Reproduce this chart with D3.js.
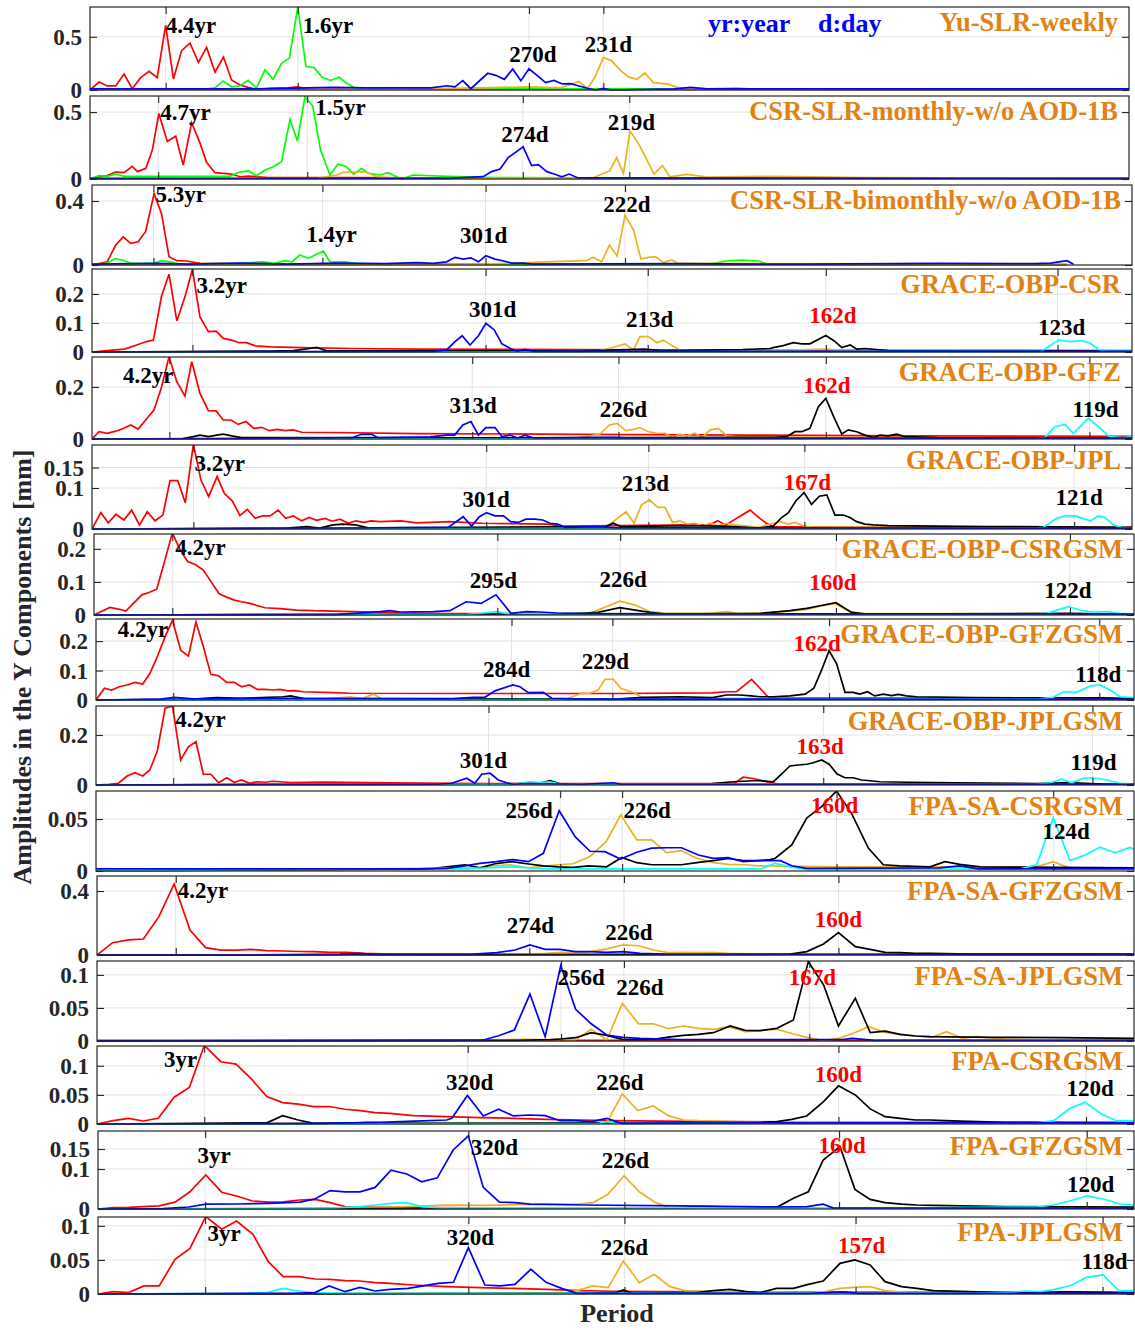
<!DOCTYPE html>
<html>
<head>
<meta charset="utf-8">
<script src="https://cdn.jsdelivr.net/npm/d3@7"></script>
<style>
  body { margin: 0; background: #fff; }
  text { font-family: "Liberation Serif", "Times New Roman", serif; font-weight: bold; }
</style>
</head>
<body>
<svg id="chart" width="1135" height="1330"></svg>
<script>
// x is frequency in cycles per year (period = 1/f), y amplitude in mm
const FMAX = 3.2;

// ---- panel 1: Yu-SLR-weekly
const p1Red = [[0,0],[0.028,0.075],[0.053,0.038],[0.079,0.038],[0.105,0.15],[0.13,0.012],[0.156,0.116],[0.182,0.176],[0.207,0.116],[0.233,0.607],[0.257,0.104],[0.282,0.37],[0.308,0.44],[0.334,0.26],[0.359,0.4],[0.385,0.167],[0.411,0.31],[0.436,0.094],[0.462,0.047],[0.487,0.025],[0.513,0.006],[0.56,0.015],[0.61,0.02],[0.64,0.03],[0.665,0.008],[1.0,0.006],[3.2,0.004]];
const p1Green = [[0,0.01],[0.36,0.01],[0.385,0.02],[0.41,0.085],[0.436,0.03],[0.462,0.04],[0.487,0.09],[0.513,0.02],[0.539,0.19],[0.564,0.1],[0.59,0.25],[0.614,0.3],[0.64,0.78],[0.665,0.22],[0.69,0.21],[0.715,0.12],[0.741,0.09],[0.767,0.12],[0.792,0.06],[0.816,0.02],[1.0,0.01],[1.5,0.01],[3.2,0.005]];
const p1Orange = [[0,0],[0.9,0.005],[1.2,0.02],[1.35,0.03],[1.45,0.02],[1.506,0.08],[1.532,0.012],[1.555,0.12],[1.581,0.305],[1.607,0.274],[1.632,0.19],[1.658,0.123],[1.684,0.1],[1.709,0.16],[1.735,0.069],[1.761,0.063],[1.786,0.05],[1.812,0.02],[1.9,0.01],[1.99,0.02],[2.05,0.005],[3.2,0.005]];
const p1Blue = [[0,0.01],[0.5,0.01],[0.75,0.025],[0.85,0.02],[1.05,0.02],[1.1,0.04],[1.124,0.03],[1.148,0.088],[1.173,0.012],[1.225,0.157],[1.25,0.138],[1.276,0.1],[1.302,0.198],[1.327,0.088],[1.352,0.2],[1.378,0.135],[1.403,0.069],[1.429,0.09],[1.455,0.057],[1.48,0.06],[1.506,0.038],[1.532,0.016],[1.557,0],[1.581,0.016],[1.605,0],[1.8,0.01],[1.85,0.025],[1.9,0.01],[2.5,0.01],[3.2,0.01]];

// ---- panel 2: CSR-SLR-monthly-w/o AOD-1B
const p2Red = [[0,0],[0.028,0.017],[0.053,0.025],[0.079,0.052],[0.105,0.047],[0.13,0.095],[0.146,0.055],[0.172,0.08],[0.192,0.216],[0.212,0.49],[0.238,0.28],[0.264,0.32],[0.287,0.104],[0.313,0.42],[0.339,0.266],[0.359,0.125],[0.385,0.047],[0.411,0.042],[0.436,0.037],[0.462,0.017],[0.488,0.022],[0.55,0.01],[0.8,0.01],[1.5,0.005],[3.2,0.005]];
const p2Green = [[0,0],[0.028,0.025],[0.053,0.02],[0.079,0.037],[0.105,0.02],[0.3,0.02],[0.43,0.02],[0.462,0.052],[0.488,0.06],[0.513,0.025],[0.539,0.067],[0.565,0.092],[0.59,0.13],[0.616,0.445],[0.639,0.284],[0.662,0.614],[0.686,0.545],[0.71,0.216],[0.739,0.03],[0.764,0.112],[0.79,0.092],[0.812,0.035],[0.836,0.08],[0.859,0.042],[0.893,0.03],[0.918,0.047],[0.933,0.03],[0.96,0.0],[0.995,0.03],[1.1,0.02],[1.25,0.01],[3.2,0.0]];
const p2Orange = [[0,0],[0.7,0.005],[0.76,0.03],[0.779,0.05],[0.847,0.055],[0.883,0.017],[0.95,0.005],[1.5,0.005],[1.55,0.01],[1.601,0.062],[1.622,0.16],[1.643,0.042],[1.663,0.358],[1.689,0.266],[1.714,0.149],[1.737,0.037],[1.763,0.1],[1.786,0.017],[1.838,0.035],[1.9,0.015],[2.1,0.02],[2.4,0.01],[3.2,0.005]];
const p2Blue = [[0,0.005],[1.1,0.005],[1.211,0.017],[1.237,0.055],[1.263,0.075],[1.288,0.16],[1.334,0.24],[1.36,0.1],[1.381,0.107],[1.407,0.055],[1.432,0.035],[1.453,0.017],[1.476,0.037],[1.503,0.008],[3.2,0.005]];

// ---- panel 3: CSR-SLR-bimonthly-w/o AOD-1B
const p3Red = [[0,0],[0.047,0.02],[0.073,0.125],[0.096,0.176],[0.119,0.135],[0.142,0.145],[0.165,0.21],[0.191,0.446],[0.214,0.32],[0.237,0.052],[0.261,0.027],[0.291,0.025],[0.332,0.01],[0.5,0.005],[3.0,0.003]];
const p3Green = [[0,0],[0.047,0.012],[0.071,0.04],[0.096,0.03],[0.119,0.01],[0.19,0.01],[0.214,0.027],[0.24,0.02],[0.27,0.005],[0.45,0.01],[0.527,0.02],[0.56,0.01],[0.594,0.027],[0.615,0.02],[0.64,0.062],[0.666,0.041],[0.686,0.062],[0.712,0.087],[0.732,0.02],[0.78,0.02],[0.81,0.01],[0.9,0.003],[1.9,0.005],[1.95,0.025],[2.0,0.03],[2.05,0.025],[2.08,0.005],[3.0,0.0]];
const p3Orange = [[0,0],[1.2,0.005],[1.399,0.02],[1.522,0.027],[1.542,0.048],[1.568,0.02],[1.592,0.124],[1.616,0.056],[1.64,0.31],[1.666,0.22],[1.689,0.037],[1.712,0.048],[1.734,0.052],[1.758,0.015],[1.784,0.031],[1.803,0.01],[3.0,0.005]];
const p3Blue = [[0,0.005],[0.2,0.01],[0.3,0.006],[0.45,0.012],[0.6,0.006],[0.75,0.012],[0.9,0.008],[1.0,0.015],[1.05,0.01],[1.091,0.02],[1.117,0.048],[1.142,0.037],[1.166,0.045],[1.189,0.02],[1.212,0.058],[1.24,0.037],[1.266,0.025],[1.291,0.012],[1.327,0.012],[1.357,0.005],[1.8,0.008],[2.2,0.005],[2.6,0.01],[2.9,0.008],[2.95,0.012],[3.0,0.027],[3.02,0.005]];

// ---- panel 4: GRACE-OBP-CSR
const p4Red = [[0,0],[0.045,0.005],[0.1,0.01],[0.142,0.026],[0.168,0.036],[0.189,0.041],[0.214,0.193],[0.237,0.268],[0.261,0.107],[0.286,0.19],[0.309,0.285],[0.332,0.122],[0.358,0.07],[0.382,0.072],[0.404,0.047],[0.43,0.041],[0.453,0.032],[0.476,0.032],[0.502,0.021],[0.548,0.018],[0.645,0.015],[0.8,0.012],[1.0,0.01],[1.5,0.008],[2.0,0.006],[3.2,0.005]];
const p4Orange = [[0,0],[1.5,0.002],[1.56,0.005],[1.594,0.013],[1.64,0.028],[1.666,0.007],[1.686,0.053],[1.712,0.053],[1.738,0.032],[1.758,0.041],[1.784,0.022],[1.809,0.007],[2.1,0.005],[2.26,0.01],[2.3,0.005],[3.2,0.003]];
const p4Black = [[0,0],[0.55,0.003],[0.62,0.005],[0.67,0.012],[0.691,0.016],[0.72,0.005],[1.5,0.003],[1.7,0.01],[1.75,0.005],[2.0,0.008],[2.086,0.012],[2.096,0.015],[2.127,0.022],[2.158,0.032],[2.184,0.028],[2.209,0.028],[2.258,0.057],[2.284,0.038],[2.307,0.015],[2.333,0.024],[2.353,0.01],[2.378,0.012],[2.45,0.005],[3.2,0.003]];
const p4Cyan = [[0,0],[2.9,0.002],[2.922,0.003],[2.974,0.041],[3.01,0.036],[3.046,0.039],[3.072,0.03],[3.098,0.007],[3.13,0.003],[3.2,0.003]];
const p4Blue = [[0,0],[1.05,0.002],[1.091,0.007],[1.117,0.036],[1.139,0.056],[1.163,0.024],[1.189,0.056],[1.212,0.099],[1.238,0.076],[1.261,0.028],[1.286,0.013],[1.307,0.003],[1.332,0.009],[1.36,0.002],[3.2,0.002]];

// ---- panel 5: GRACE-OBP-GFZ
const p5Red = [[0,0],[0.022,0.028],[0.047,0.022],[0.073,0.03],[0.098,0.041],[0.119,0.054],[0.142,0.038],[0.165,0.073],[0.191,0.112],[0.214,0.2],[0.237,0.316],[0.261,0.22],[0.286,0.165],[0.307,0.297],[0.332,0.176],[0.358,0.109],[0.382,0.108],[0.404,0.073],[0.427,0.073],[0.45,0.056],[0.474,0.067],[0.498,0.041],[0.522,0.045],[0.546,0.032],[0.57,0.037],[0.594,0.032],[0.619,0.035],[0.645,0.026],[0.8,0.024],[1.0,0.021],[1.5,0.018],[2.0,0.015],[2.5,0.012],[3.2,0.01]];
const p5Orange = [[0,0],[1.0,0.003],[1.5,0.005],[1.563,0.019],[1.592,0.054],[1.616,0.06],[1.642,0.032],[1.666,0.037],[1.686,0.044],[1.712,0.028],[1.738,0.022],[1.763,0.022],[1.786,0.005],[1.809,0.019],[1.83,0.012],[1.855,0.022],[1.877,0.005],[1.902,0.035],[1.927,0.041],[1.953,0.012],[1.978,0.009],[2.3,0.005],[3.2,0.004]];
const p5Black = [[0,0],[0.28,0.002],[0.312,0.009],[0.332,0.015],[0.358,0.009],[0.384,0.015],[0.404,0.019],[0.43,0.012],[0.46,0.005],[1.2,0.004],[2.1,0.006],[2.137,0.009],[2.163,0.028],[2.184,0.028],[2.209,0.041],[2.235,0.124],[2.258,0.156],[2.284,0.08],[2.307,0.019],[2.327,0.035],[2.353,0.028],[2.378,0.015],[2.404,0.006],[2.425,0.015],[2.45,0.012],[2.476,0.019],[2.5,0.009],[2.6,0.005],[3.2,0.004]];
const p5Cyan = [[0,0],[2.9,0.002],[2.932,0.005],[2.963,0.047],[2.994,0.056],[3.019,0.022],[3.066,0.08],[3.097,0.047],[3.13,0.009],[3.17,0.005],[3.2,0.008]];
const p5Blue = [[0,0],[0.6,0.003],[0.8,0.005],[0.83,0.018],[0.86,0.018],[0.88,0.005],[1.04,0.008],[1.071,0.012],[1.091,0.015],[1.116,0.015],[1.141,0.054],[1.166,0.067],[1.189,0.015],[1.212,0.044],[1.24,0.044],[1.261,0.009],[1.286,0.015],[1.31,0.004],[1.332,0.015],[1.36,0.004],[1.6,0.006],[1.65,0.004],[2.2,0.003],[3.2,0.003]];

// ---- panel 6: GRACE-OBP-JPL
const p6Red = [[0,0],[0.027,0.04],[0.05,0.015],[0.074,0.036],[0.098,0.022],[0.122,0.046],[0.146,0.01],[0.17,0.042],[0.194,0.02],[0.218,0.034],[0.24,0.118],[0.264,0.118],[0.287,0.064],[0.312,0.207],[0.335,0.12],[0.359,0.079],[0.385,0.128],[0.407,0.087],[0.432,0.068],[0.455,0.033],[0.478,0.048],[0.502,0.026],[0.525,0.032],[0.548,0.032],[0.573,0.046],[0.596,0.026],[0.619,0.032],[0.645,0.02],[0.668,0.028],[0.691,0.021],[0.717,0.026],[0.739,0.019],[0.763,0.024],[0.789,0.014],[0.812,0.02],[0.836,0.016],[0.859,0.02],[0.886,0.018],[0.95,0.02],[1.0,0.015],[1.1,0.018],[1.2,0.014],[1.4,0.012],[1.45,0.007],[1.6,0.008],[1.9,0.01],[1.925,0.02],[1.95,0.01],[2.025,0.046],[2.055,0.026],[2.075,0.014],[2.1,0.005],[3.2,0.004]];
const p6Orange = [[0,0],[1.5,0.003],[1.58,0.005],[1.604,0.018],[1.643,0.042],[1.668,0.014],[1.691,0.059],[1.715,0.071],[1.741,0.053],[1.763,0.053],[1.786,0.016],[1.809,0.02],[1.832,0.012],[1.855,0.014],[1.879,0.008],[1.902,0.014],[1.925,0.008],[1.953,0.014],[1.978,0.01],[2.05,0.004],[2.096,0.014],[2.117,0.018],[2.143,0.012],[2.163,0.016],[2.189,0.008],[2.214,0.005],[3.2,0.003]];
const p6Black = [[0,0],[0.6,0.002],[0.661,0.006],[0.7,0.002],[0.742,0.01],[0.772,0.012],[0.81,0.01],[0.85,0.003],[1.4,0.005],[1.58,0.006],[1.604,0.014],[1.63,0.005],[1.8,0.008],[1.95,0.007],[2.05,0.002],[2.096,0.007],[2.122,0.028],[2.143,0.04],[2.166,0.069],[2.191,0.089],[2.214,0.06],[2.238,0.08],[2.261,0.083],[2.286,0.034],[2.312,0.034],[2.332,0.028],[2.353,0.018],[2.378,0.012],[2.404,0.01],[2.45,0.008],[2.75,0.006],[3.2,0.004]];
const p6Cyan = [[0,0],[2.9,0.002],[2.927,0.004],[2.968,0.026],[2.994,0.032],[3.025,0.032],[3.048,0.026],[3.073,0.02],[3.096,0.032],[3.117,0.028],[3.143,0.01],[3.168,0.004],[3.2,0.002]];
const p6Blue = [[0,0],[0.9,0.003],[1.096,0.004],[1.142,0.03],[1.168,0.007],[1.192,0.03],[1.214,0.04],[1.24,0.032],[1.266,0.032],[1.288,0.018],[1.312,0.016],[1.335,0.024],[1.363,0.024],[1.387,0.022],[1.409,0.014],[1.433,0.012],[1.456,0.004],[1.55,0.006],[1.62,0.003],[3.2,0.002]];

// ---- panel 7: GRACE-OBP-CSRGSM
const p7Red = [[0,0],[0.049,0.023],[0.075,0.018],[0.098,0.012],[0.121,0.035],[0.147,0.061],[0.169,0.068],[0.193,0.078],[0.216,0.158],[0.241,0.248],[0.265,0.197],[0.288,0.162],[0.313,0.152],[0.336,0.136],[0.36,0.101],[0.385,0.064],[0.408,0.054],[0.432,0.045],[0.454,0.04],[0.48,0.035],[0.504,0.028],[0.526,0.022],[0.572,0.019],[0.624,0.015],[0.675,0.013],[0.736,0.012],[0.798,0.01],[0.859,0.009],[0.95,0.006],[1.1,0.004],[3.2,0.003]];
const p7Orange = [[0,0],[1.4,0.003],[1.526,0.005],[1.618,0.042],[1.665,0.03],[1.711,0.01],[1.757,0.005],[1.9,0.006],[1.947,0.01],[1.98,0.004],[2.1,0.008],[2.152,0.013],[2.193,0.017],[2.234,0.027],[2.28,0.035],[2.326,0.01],[2.357,0.005],[3.2,0.003]];
const p7Black = [[0,0],[1.45,0.003],[1.55,0.008],[1.618,0.022],[1.665,0.015],[1.711,0.008],[1.76,0.003],[2.05,0.005],[2.142,0.013],[2.193,0.02],[2.234,0.028],[2.283,0.037],[2.331,0.008],[2.378,0.003],[3.0,0.005],[3.2,0.002]];
const p7Cyan = [[0,0],[1.15,0.002],[1.2,0.006],[1.239,0.01],[1.27,0.004],[2.9,0.003],[2.931,0.005],[2.998,0.025],[3.034,0.015],[3.075,0.008],[3.116,0.01],[3.157,0.005],[3.2,0.003]];
const p7Blue = [[0,0],[0.75,0.002],[0.85,0.008],[0.88,0.01],[0.911,0.013],[0.942,0.009],[1.044,0.01],[1.095,0.013],[1.145,0.04],[1.191,0.035],[1.237,0.061],[1.283,0.005],[1.331,0.01],[1.372,0.009],[1.424,0.006],[1.5,0.004],[3.2,0.003]];

// ---- panel 8: GRACE-OBP-GFZGSM
const p8Red = [[0,0],[0.026,0.04],[0.048,0.034],[0.072,0.045],[0.096,0.051],[0.12,0.06],[0.144,0.054],[0.166,0.09],[0.189,0.147],[0.213,0.215],[0.236,0.271],[0.261,0.169],[0.285,0.149],[0.308,0.265],[0.331,0.181],[0.354,0.087],[0.378,0.082],[0.403,0.06],[0.426,0.06],[0.449,0.045],[0.473,0.051],[0.497,0.036],[0.521,0.036],[0.545,0.034],[0.567,0.036],[0.592,0.031],[0.614,0.032],[0.639,0.028],[0.731,0.025],[0.783,0.023],[1.2,0.022],[1.6,0.022],[1.9,0.024],[1.944,0.028],[1.975,0.028],[2.021,0.07],[2.047,0.04],[2.072,0.01],[2.1,0.008],[3.2,0.005]];
const p8Orange = [[0,0],[0.7,0.003],[0.783,0.011],[0.82,0.005],[0.855,0.02],[0.88,0.004],[1.4,0.003],[1.456,0.006],[1.497,0.023],[1.523,0.023],[1.548,0.034],[1.569,0.07],[1.595,0.07],[1.618,0.04],[1.662,0.023],[1.687,0.006],[3.2,0.003]];
const p8Black = [[0,0],[0.3,0.003],[0.372,0.008],[0.45,0.006],[0.577,0.011],[0.6,0.014],[0.64,0.005],[1.6,0.003],[1.687,0.009],[1.8,0.011],[1.9,0.008],[1.944,0.017],[1.985,0.017],[2.02,0.014],[2.047,0.011],[2.088,0.011],[2.139,0.014],[2.186,0.02],[2.213,0.04],[2.237,0.102],[2.26,0.167],[2.283,0.124],[2.309,0.026],[2.334,0.026],[2.355,0.02],[2.378,0.028],[2.401,0.014],[2.427,0.02],[2.453,0.015],[2.473,0.019],[2.499,0.014],[2.53,0.011],[2.7,0.008],[3.1,0.007],[3.2,0.005]];
const p8Cyan = [[0,0],[2.9,0.003],[2.951,0.009],[2.982,0.028],[3.023,0.026],[3.064,0.047],[3.095,0.051],[3.126,0.034],[3.157,0.011],[3.2,0.008]];
const p8Blue = [[0,0],[0.2,0.003],[0.24,0.009],[0.3,0.004],[0.55,0.006],[1.1,0.005],[1.163,0.009],[1.2,0.01],[1.23,0.031],[1.285,0.051],[1.307,0.045],[1.333,0.025],[1.379,0.026],[1.405,0.006],[1.5,0.003],[3.2,0.002]];

// ---- panel 9: GRACE-OBP-JPLGSM
const p9Red = [[0,0],[0.04,0.003],[0.069,0.007],[0.096,0.036],[0.12,0.049],[0.144,0.036],[0.166,0.06],[0.189,0.136],[0.213,0.307],[0.236,0.316],[0.261,0.1],[0.285,0.153],[0.308,0.173],[0.331,0.043],[0.354,0.043],[0.378,0.009],[0.403,0.029],[0.426,0.011],[0.449,0.02],[0.473,0.007],[0.497,0.013],[0.521,0.011],[0.545,0.015],[0.6,0.01],[0.7,0.012],[0.9,0.009],[1.2,0.006],[1.9,0.006],[1.97,0.008],[1.995,0.031],[2.021,0.027],[2.047,0.02],[2.07,0.012],[2.1,0.005],[3.2,0.004]];
const p9Black = [[0,0],[1.2,0.003],[1.37,0.008],[1.4,0.017],[1.43,0.005],[1.9,0.006],[1.964,0.013],[2.026,0.017],[2.047,0.017],[2.088,0.013],[2.114,0.044],[2.139,0.076],[2.165,0.08],[2.191,0.083],[2.211,0.089],[2.237,0.1],[2.26,0.083],[2.285,0.044],[2.309,0.029],[2.334,0.029],[2.36,0.02],[2.386,0.017],[2.417,0.013],[2.5,0.011],[2.65,0.009],[2.9,0.006],[3.0,0.01],[3.1,0.004],[3.2,0.003]];
const p9Cyan = [[0,0],[1.28,0.003],[1.307,0.007],[1.338,0.013],[1.37,0.01],[1.4,0.013],[1.43,0.004],[2.9,0.003],[2.941,0.009],[2.977,0.023],[3.008,0.009],[3.043,0.027],[3.074,0.029],[3.116,0.02],[3.157,0.007],[3.2,0.003]];
const p9Blue = [[0,0],[0.5,0.003],[1.05,0.003],[1.096,0.007],[1.143,0.027],[1.168,0.007],[1.189,0.043],[1.215,0.047],[1.24,0.02],[1.266,0.009],[1.286,0.003],[1.33,0.006],[1.5,0.003],[1.595,0.009],[1.62,0.003],[3.2,0.003]];

// ---- panel 10: FPA-SA-CSRGSM
const p10Orange = [[0,0],[1.15,0.002],[1.225,0.005],[1.276,0.006],[1.33,0.003],[1.425,0.006],[1.471,0.007],[1.523,0.014],[1.572,0.028],[1.618,0.054],[1.667,0.03],[1.713,0.03],[1.759,0.0176],[1.805,0.0195],[1.852,0.0122],[1.903,0.008],[1.949,0.0064],[2.0,0.006],[2.042,0.005],[2.3,0.004],[2.9,0.004],[2.951,0.009],[3.0,0.003],[3.2,0.003]];
const p10Black = [[0,0],[0.5,0.001],[1.0,0.002],[1.04,0.0026],[1.137,0.006],[1.184,0.003],[1.23,0.007],[1.281,0.009],[1.328,0.007],[1.379,0.005],[1.425,0.004],[1.471,0.0035],[1.518,0.005],[1.574,0.004],[1.621,0.013],[1.667,0.008],[1.713,0.006],[1.759,0.006],[1.805,0.006],[1.852,0.008],[1.903,0.01],[1.949,0.012],[1.995,0.01],[2.042,0.01],[2.078,0.011],[2.093,0.012],[2.145,0.025],[2.191,0.051],[2.237,0.062],[2.283,0.077],[2.33,0.055],[2.381,0.022],[2.427,0.006],[2.478,0.005],[2.571,0.004],[2.617,0.009],[2.663,0.0064],[2.725,0.004],[3.2,0.003]];
const p10Cyan = [[0,0],[1.2,0.003],[1.28,0.004],[1.4,0.002],[2.05,0.002],[2.093,0.0074],[2.14,0.004],[2.2,0.001],[2.85,0.002],[2.9,0.006],[2.951,0.051],[3.003,0.01],[3.049,0.0154],[3.095,0.023],[3.141,0.0176],[3.187,0.0227],[3.2,0.021]];
const p10Blue = [[0,0.002],[0.5,0.002],[1.0,0.002],[1.081,0.0026],[1.137,0.005],[1.184,0.0074],[1.235,0.009],[1.285,0.011],[1.333,0.009],[1.379,0.017],[1.428,0.058],[1.477,0.033],[1.523,0.019],[1.569,0.0186],[1.617,0.0115],[1.667,0.018],[1.713,0.022],[1.759,0.0224],[1.805,0.0224],[1.857,0.0154],[1.903,0.0122],[1.949,0.0128],[1.995,0.009],[2.042,0.01],[2.078,0.01],[2.11,0.01],[2.145,0.005],[2.191,0.0025],[2.6,0.003],[2.663,0.005],[2.72,0.002],[3.2,0.002]];

// ---- panel 11: FPA-SA-GFZGSM
const p11Red = [[0,0],[0.048,0.077],[0.097,0.094],[0.143,0.1],[0.191,0.24],[0.238,0.444],[0.287,0.156],[0.335,0.046],[0.382,0.031],[0.431,0.031],[0.477,0.035],[0.524,0.027],[0.575,0.025],[0.627,0.022],[0.668,0.021],[0.719,0.017],[0.771,0.017],[0.822,0.01],[0.904,0.006],[1.2,0.004],[3.2,0.002]];
const p11Black = [[0,0],[0.75,0.002],[0.8,0.006],[0.85,0.002],[1.5,0.003],[2.05,0.004],[2.139,0.006],[2.19,0.021],[2.242,0.069],[2.288,0.14],[2.34,0.052],[2.386,0.035],[2.432,0.017],[2.478,0.015],[2.525,0.01],[2.571,0.01],[2.7,0.006],[3.2,0.005]];
const p11Blue = [[0,0],[0.6,0.002],[0.75,0.005],[0.812,0.01],[0.86,0.004],[1.15,0.004],[1.234,0.015],[1.29,0.031],[1.336,0.063],[1.383,0.035],[1.429,0.035],[1.475,0.021],[1.522,0.021],[1.573,0.017],[1.624,0.021],[1.676,0.01],[1.75,0.005],[3.2,0.003]];
const p11Orange = [[0,0],[1.3,0.004],[1.388,0.01],[1.434,0.017],[1.475,0.012],[1.522,0.021],[1.573,0.038],[1.624,0.063],[1.671,0.058],[1.717,0.031],[1.763,0.015],[1.809,0.017],[1.856,0.015],[1.902,0.015],[1.949,0.01],[2.05,0.006],[3.2,0.004]];

// ---- panel 12: FPA-SA-JPLGSM
const p12Red = [[0,0.001],[3.2,0.001]];
const p12Orange = [[0,0],[1.2,0.001],[1.316,0.0026],[1.4,0.002],[1.477,0.0015],[1.525,0.0177],[1.573,0.0015],[1.621,0.057],[1.671,0.026],[1.717,0.026],[1.763,0.0186],[1.81,0.0227],[1.856,0.019],[1.902,0.0177],[1.948,0.0217],[2.0,0.0141],[2.046,0.0156],[2.098,0.018],[2.149,0.0106],[2.195,0.005],[2.242,0.0005],[2.288,0.004],[2.334,0.0117],[2.381,0.0217],[2.432,0.013],[2.478,0.01],[2.53,0.0076],[2.576,0.0056],[2.622,0.014],[2.669,0.004],[2.715,0.0065],[2.8,0.003],[3.0,0.001],[3.2,0.001]];
const p12Black = [[0,0],[1.3,0.001],[1.4,0.002],[1.429,0.003],[1.477,0.005],[1.525,0.0126],[1.573,0.0086],[1.621,0.0026],[1.671,0.002],[1.717,0.0026],[1.763,0.006],[1.81,0.0086],[1.856,0.0101],[1.902,0.0126],[1.954,0.0227],[2.0,0.0162],[2.046,0.0156],[2.098,0.0192],[2.149,0.0318],[2.195,0.12],[2.242,0.085],[2.288,0.0227],[2.34,0.0647],[2.386,0.0126],[2.432,0.015],[2.478,0.0101],[2.525,0.0076],[2.571,0.0065],[2.766,0.0056],[2.972,0.005],[3.2,0.004]];
const p12Blue = [[0,0],[1.1,0.001],[1.192,0.0015],[1.239,0.008],[1.288,0.0167],[1.336,0.071],[1.383,0.0065],[1.431,0.114],[1.477,0.048],[1.525,0.026],[1.573,0.009],[1.623,0.0056],[1.676,0.004],[1.8,0.002],[2.3,0.002],[2.33,0.004],[2.4,0.001],[3.2,0.001]];

// ---- panel 13: FPA-CSRGSM
const p13Red = [[0,0],[0.05,0.0057],[0.097,0.0098],[0.143,0.0052],[0.189,0.0098],[0.238,0.046],[0.285,0.0626],[0.331,0.135],[0.382,0.107],[0.429,0.103],[0.477,0.077],[0.524,0.047],[0.573,0.0367],[0.621,0.034],[0.668,0.03],[0.717,0.03],[0.765,0.0253],[0.812,0.023],[0.858,0.0195],[0.904,0.0184],[0.976,0.0143],[1.079,0.0126],[1.182,0.011],[1.285,0.0098],[1.388,0.008],[1.491,0.0069],[1.594,0.0057],[1.902,0.004],[3.2,0.003]];
const p13Orange = [[0,0],[0.8,0.002],[0.83,0.004],[0.87,0.003],[1.2,0.002],[1.55,0.002],[1.575,0.004],[1.621,0.0517],[1.669,0.023],[1.717,0.031],[1.763,0.0143],[1.81,0.0069],[1.856,0.0057],[2.0,0.004],[3.2,0.003]];
const p13Black = [[0,0],[0.328,0.001],[0.524,0.002],[0.573,0.0143],[0.621,0.0069],[0.668,0.001],[0.8,0.002],[1.0,0.001],[1.6,0.002],[1.9,0.003],[2.046,0.003],[2.098,0.004],[2.144,0.008],[2.19,0.0138],[2.242,0.0385],[2.288,0.0655],[2.34,0.05],[2.386,0.0259],[2.432,0.0126],[2.478,0.0098],[2.525,0.0069],[2.571,0.0069],[2.617,0.0057],[2.664,0.005],[2.8,0.003],[3.2,0.002]];
const p13Cyan = [[0,0],[1.55,0.001],[1.573,0.004],[1.6,0.001],[2.9,0.002],[2.952,0.0057],[3.003,0.027],[3.049,0.0374],[3.101,0.0167],[3.147,0.0057],[3.2,0.005]];
const p13Blue = [[0,0],[0.7,0.001],[0.873,0.003],[0.98,0.005],[1.079,0.0069],[1.095,0.0098],[1.143,0.049],[1.192,0.0138],[1.239,0.0253],[1.285,0.0138],[1.336,0.0155],[1.383,0.0143],[1.429,0.0057],[1.475,0.0057],[1.527,0.004],[1.573,0.0098],[1.619,0.001],[2.0,0.002],[3.2,0.002]];

// ---- panel 14: FPA-GFZGSM
const p14Red = [[0,0],[0.047,0.0033],[0.094,0.004],[0.14,0.006],[0.189,0.008],[0.238,0.017],[0.284,0.043],[0.333,0.085],[0.382,0.042],[0.428,0.0325],[0.477,0.02],[0.526,0.017],[0.572,0.018],[0.622,0.0225],[0.67,0.024],[0.717,0.016],[0.763,0.006],[0.809,0.005],[0.861,0.004],[1.2,0.003],[3.2,0.002]];
const p14Orange = [[0,0],[0.7,0.002],[0.9,0.004],[1.077,0.01],[1.2,0.009],[1.386,0.012],[1.48,0.012],[1.53,0.016],[1.576,0.0375],[1.625,0.083],[1.672,0.043],[1.72,0.017],[1.767,0.003],[3.2,0.003]];
const p14Black = [[0,0],[1.8,0.002],[1.859,0.006],[2.0,0.005],[2.101,0.006],[2.148,0.027],[2.194,0.043],[2.24,0.1225],[2.292,0.156],[2.338,0.049],[2.385,0.024],[2.431,0.016],[2.482,0.012],[2.529,0.01],[2.58,0.009],[2.8,0.006],[3.2,0.005]];
const p14Cyan = [[0,0],[0.7,0.001],[0.809,0.006],[0.856,0.01],[0.907,0.014],[0.954,0.016],[1.0,0.006],[1.05,0.003],[2.5,0.003],[2.9,0.005],[2.951,0.01],[3.002,0.02],[3.054,0.033],[3.105,0.025],[3.157,0.0125],[3.2,0.01]];
const p14Blue = [[0,0],[0.2,0.001],[0.28,0.005],[0.333,0.012],[0.428,0.0125],[0.526,0.014],[0.624,0.017],[0.67,0.025],[0.717,0.046],[0.763,0.043],[0.809,0.043],[0.856,0.054],[0.905,0.097],[0.954,0.0875],[1.0,0.068],[1.048,0.078],[1.097,0.1475],[1.144,0.183],[1.19,0.054],[1.24,0.017],[1.288,0.016],[1.334,0.012],[1.5,0.01],[1.8,0.008],[2.1,0.005],[2.19,0.006],[2.24,0.012],[2.27,0.003],[3.2,0.002]];

// ---- panel 15: FPA-JPLGSM
const p15Red = [[0,0],[0.047,0.0034],[0.094,0.002],[0.142,0.0118],[0.189,0.0118],[0.238,0.051],[0.284,0.067],[0.333,0.1137],[0.382,0.095],[0.428,0.107],[0.478,0.088],[0.526,0.0475],[0.572,0.0254],[0.621,0.0254],[0.67,0.022],[0.717,0.0216],[0.763,0.0196],[0.809,0.0191],[0.856,0.0166],[0.902,0.0157],[0.974,0.0132],[1.077,0.0108],[1.18,0.0093],[1.283,0.0083],[1.386,0.0069],[1.489,0.0049],[1.592,0.004],[1.9,0.003],[3.2,0.002]];
const p15Orange = [[0,0],[1.2,0.001],[1.45,0.002],[1.479,0.0049],[1.528,0.0118],[1.576,0.0093],[1.623,0.0485],[1.672,0.0166],[1.718,0.029],[1.767,0.0108],[1.813,0.0049],[1.9,0.004],[2.2,0.002],[2.24,0.003],[2.292,0.0083],[2.338,0.0098],[2.385,0.0108],[2.431,0.0049],[2.5,0.002],[3.2,0.002]];
const p15Black = [[0,0],[1.5,0.001],[1.6,0.002],[1.623,0.0059],[1.65,0.001],[1.85,0.002],[1.9,0.0049],[1.952,0.0069],[2.004,0.0034],[2.045,0.002],[2.096,0.0083],[2.148,0.0083],[2.194,0.0142],[2.24,0.0191],[2.292,0.045],[2.338,0.05],[2.385,0.0426],[2.431,0.0181],[2.482,0.0108],[2.529,0.0083],[2.58,0.0049],[2.8,0.002],[3.0,0.003],[3.2,0.002]];
const p15Cyan = [[0,0],[0.45,0.001],[0.521,0.002],[0.571,0.0083],[0.619,0.0044],[0.67,0.002],[0.75,0.001],[2.7,0.001],[2.817,0.002],[2.863,0.0044],[2.91,0.0034],[2.956,0.0069],[3.008,0.0132],[3.054,0.0245],[3.105,0.028],[3.152,0.0049],[3.198,0.0049]];
const p15Blue = [[0,0],[0.6,0.001],[0.67,0.002],[0.714,0.0118],[0.763,0.0034],[0.809,0.0098],[0.856,0.0044],[0.902,0.0069],[0.958,0.0083],[1.005,0.0118],[1.051,0.0157],[1.098,0.0172],[1.144,0.068],[1.195,0.0132],[1.242,0.0118],[1.288,0.0142],[1.337,0.0363],[1.384,0.0172],[1.432,0.0083],[1.479,0.001],[2.2,0.001],[2.3,0.003],[2.35,0.001],[3.2,0.001]];

// ---- panel titles, axis limits, peak marks
const panelTitles = ["Yu-SLR-weekly","CSR-SLR-monthly-w/o AOD-1B","CSR-SLR-bimonthly-w/o AOD-1B","GRACE-OBP-CSR","GRACE-OBP-GFZ","GRACE-OBP-JPL","GRACE-OBP-CSRGSM","GRACE-OBP-GFZGSM","GRACE-OBP-JPLGSM","FPA-SA-CSRGSM","FPA-SA-GFZGSM","FPA-SA-JPLGSM","FPA-CSRGSM","FPA-GFZGSM","FPA-JPLGSM"];
const panelYMax = [0.78,0.62,0.5,0.286,0.315,0.205,0.245,0.275,0.316,0.077,0.494,0.121,0.134,0.195,0.113];
const panelYTicks = [[0,0.5],[0,0.5],[0,0.4],[0,0.1,0.2],[0,0.2],[0,0.1,0.15],[0,0.1,0.2],[0,0.1,0.2],[0,0.2],[0,0.05],[0,0.4],[0,0.05,0.1],[0,0.05,0.1],[0,0.1,0.15],[0,0.05,0.1]];
const peakFreqs = [
  [0.233,0.64,1.352,1.581],
  [0.21,0.669,1.333,1.661],
  [0.189,0.709,1.211,1.64],
  [0.309,1.211,1.71,2.258,2.971],
  [0.238,1.17,1.62,2.258,3.069],
  [0.312,1.213,1.712,2.192,3.022],
  [0.241,1.241,1.619,2.283,3.003],
  [0.238,1.281,1.592,2.26,3.093],
  [0.238,1.21,2.242,3.072],
  [1.431,1.622,2.283,2.951],
  [0.243,1.334,1.626,2.288],
  [1.432,1.626,2.198],
  [0.331,1.144,1.626,2.288,3.052],
  [0.331,1.144,1.626,2.289,3.054],
  [0.331,1.144,1.626,2.34,3.103]
];
const peakLabels = [
  ["4.4yr","1.6yr","270d","231d"],
  ["4.7yr","1.5yr","274d","219d"],
  ["5.3yr","1.4yr","301d","222d"],
  ["3.2yr","301d","213d","162d","123d"],
  ["4.2yr","313d","226d","162d","119d"],
  ["3.2yr","301d","213d","167d","121d"],
  ["4.2yr","295d","226d","160d","122d"],
  ["4.2yr","284d","229d","162d","118d"],
  ["4.2yr","301d","163d","119d"],
  ["256d","226d","160d","124d"],
  ["4.2yr","274d","226d","160d"],
  ["256d","226d","167d"],
  ["3yr","320d","226d","160d","120d"],
  ["3yr","320d","226d","160d","120d"],
  ["3yr","320d","226d","157d","118d"]
];
const redPeakIndex = [-1,-1,-1,3,3,3,3,3,2,2,3,2,3,3,3];

// ---- layout (pixels): [top, bottom, left, right]
const panelBox = [
  [7,90,90,1129],[96,179,90,1129],[185,265,92,1132],[269,352,92,1132],[357,439,92,1132],
  [445,529,92,1132],[534,615,94,1134],[619,700,96,1134],[706,785,96,1134],[791,871,96,1134],
  [876,955,97,1134],[961,1041,97,1134],[1046,1124,97,1134],[1131,1209,98,1134],[1217,1294,98,1134]
];
// label placement: [dx from tick, baseline below panel top, anchor]
const labelPos = [
  [[0,26,"start"],[5,26,"start"],[4,55,"middle"],[5,45,"middle"]],
  [[2,24,"start"],[8,19,"start"],[2,46,"middle"],[2,34,"middle"]],
  [[2,17,"start"],[9,57,"middle"],[-2,58,"middle"],[2,27,"middle"]],
  [[4,24,"start"],[7,48,"middle"],[2,58,"middle"],[7,54,"middle"],[4,66,"middle"]],
  [[4,26,"end"],[1,56,"middle"],[5,60,"middle"],[1,36,"middle"],[6,60,"middle"]],
  [[1,26,"start"],[0,62,"middle"],[-3,46,"middle"],[3,45,"middle"],[5,60,"middle"]],
  [[3,21,"start"],[-4,54,"middle"],[3,53,"middle"],[-3,56,"middle"],[-2,64,"middle"]],
  [[-5,18,"end"],[-5,58,"middle"],[-7,50,"middle"],[-12,32,"middle"],[-1,63,"middle"]],
  [[2,21,"start"],[-5,62,"middle"],[-3,48,"middle"],[1,64,"middle"]],
  [[-31,27,"middle"],[25,27,"middle"],[-2,22,"middle"],[13,48,"middle"]],
  [[2,22,"start"],[1,57,"middle"],[5,64,"middle"],[0,51,"middle"]],
  [[20,24,"middle"],[16,34,"middle"],[3,24,"middle"]],
  [[-7,21,"end"],[2,44,"middle"],[-4,44,"middle"],[0,36,"middle"],[4,50,"middle"]],
  [[9,32,"middle"],[26,24,"middle"],[1,37,"middle"],[3,22,"middle"],[4,61,"middle"]],
  [[19,24,"middle"],[2,28,"middle"],[0,38,"middle"],[6,36,"middle"],[2,52,"middle"]]
];

const panelSeries = [
  {red:p1Red, green:p1Green, orange:p1Orange, blue:p1Blue},
  {red:p2Red, green:p2Green, orange:p2Orange, blue:p2Blue},
  {red:p3Red, green:p3Green, orange:p3Orange, blue:p3Blue},
  {red:p4Red, orange:p4Orange, black:p4Black, cyan:p4Cyan, blue:p4Blue},
  {red:p5Red, orange:p5Orange, black:p5Black, cyan:p5Cyan, blue:p5Blue},
  {red:p6Red, orange:p6Orange, black:p6Black, cyan:p6Cyan, blue:p6Blue},
  {red:p7Red, orange:p7Orange, black:p7Black, cyan:p7Cyan, blue:p7Blue},
  {red:p8Red, orange:p8Orange, black:p8Black, cyan:p8Cyan, blue:p8Blue},
  {red:p9Red, black:p9Black, cyan:p9Cyan, blue:p9Blue},
  {orange:p10Orange, black:p10Black, cyan:p10Cyan, blue:p10Blue},
  {red:p11Red, black:p11Black, blue:p11Blue, orange:p11Orange},
  {red:p12Red, orange:p12Orange, black:p12Black, blue:p12Blue},
  {red:p13Red, orange:p13Orange, black:p13Black, cyan:p13Cyan, blue:p13Blue},
  {red:p14Red, orange:p14Orange, black:p14Black, cyan:p14Cyan, blue:p14Blue},
  {red:p15Red, orange:p15Orange, black:p15Black, cyan:p15Cyan, blue:p15Blue}
];

const lineColor = {red:"#ff0000", green:"#00ff00", orange:"#edb120", black:"#000000", cyan:"#00ffff", blue:"#0000ff"};
const drawOrder = ["red","green","orange","black","cyan","blue"];
const axisColor = "#262626";
const titleColor = "#e08214";

const svg = d3.select("#chart");
const defs = svg.append("defs");

panelBox.forEach(function(box, i) {
  const top = box[0], bottom = box[1], left = box[2], right = box[3];
  const x = d3.scaleLinear().domain([0, FMAX]).range([left, right]);
  const y = d3.scaleLinear().domain([0, panelYMax[i]]).range([bottom, top]);
  const g = svg.append("g").attr("class", "panel");

  // grid
  g.selectAll(".hgrid").data(panelYTicks[i].filter(function(v) { return v > 0; }))
    .join("line")
      .attr("x1", left).attr("x2", right)
      .attr("y1", function(d) { return y(d); }).attr("y2", function(d) { return y(d); })
      .attr("stroke", "#e3e3e3").attr("stroke-width", 1);
  g.selectAll(".vgrid").data(peakFreqs[i])
    .join("line")
      .attr("x1", function(d) { return x(d); }).attr("x2", function(d) { return x(d); })
      .attr("y1", top).attr("y2", bottom)
      .attr("stroke", "#e3e3e3").attr("stroke-width", 1);

  // spectra
  defs.append("clipPath").attr("id", "clip" + i)
    .append("rect")
      .attr("x", left).attr("y", top)
      .attr("width", right - left).attr("height", bottom - top + 1.5);

  const line = d3.line()
    .x(function(d) { return x(d[0]); })
    .y(function(d) { return y(d[1]); });

  const plot = g.append("g").attr("clip-path", "url(#clip" + i + ")");
  drawOrder.forEach(function(c) {
    const s = panelSeries[i][c];
    if (!s) return;
    plot.append("path")
      .datum(s)
      .attr("d", line)
      .attr("fill", "none")
      .attr("stroke", lineColor[c])
      .attr("stroke-width", 1.7);
  });

  // axes, ticks pointing inward
  const yl = g.append("g").attr("transform", "translate(" + left + ",0)")
    .call(d3.axisLeft(y).tickValues(panelYTicks[i]).tickSize(-7).tickPadding(8)
      .tickFormat(function(d) { return String(d); }));
  const yr = g.append("g").attr("transform", "translate(" + right + ",0)")
    .call(d3.axisRight(y).tickValues(panelYTicks[i]).tickSize(-7).tickFormat(""));
  const xb = g.append("g").attr("transform", "translate(0," + bottom + ")")
    .call(d3.axisBottom(x).tickValues(peakFreqs[i]).tickSize(-7).tickFormat(""));
  const xt = g.append("g").attr("transform", "translate(0," + top + ")")
    .call(d3.axisTop(x).tickValues(peakFreqs[i]).tickSize(-7).tickFormat(""));
  [yl, yr, xb, xt].forEach(function(a) {
    a.select(".domain").remove();
    a.selectAll(".tick line").attr("stroke", axisColor).attr("stroke-width", 1.1);
  });
  yl.selectAll(".tick text")
    .attr("fill", axisColor)
    .style("font-family", "'Liberation Serif', serif")
    .style("font-weight", "bold")
    .style("font-size", "23px")
    .attr("dy", "0.33em");

  g.append("rect")
    .attr("x", left).attr("y", top)
    .attr("width", right - left).attr("height", bottom - top)
    .attr("fill", "none").attr("stroke", axisColor).attr("stroke-width", 1.2);

  // title
  g.append("text")
    .attr("x", right - 11).attr("y", top + 24)
    .attr("text-anchor", "end")
    .attr("fill", titleColor)
    .style("font-size", "26.5px")
    .text(panelTitles[i]);

  // peak labels
  peakLabels[i].forEach(function(lab, j) {
    const p = labelPos[i][j];
    g.append("text")
      .attr("x", x(peakFreqs[i][j]) + p[0])
      .attr("y", top + p[1])
      .attr("text-anchor", p[2])
      .attr("fill", j === redPeakIndex[i] ? "#ff0000" : "#000000")
      .style("font-size", "23px")
      .text(lab);
  });
});

// legend note in the top panel
svg.append("text").attr("x", 708).attr("y", 32).attr("fill", "#0000ff")
  .style("font-size", "26px").text("yr:year");
svg.append("text").attr("x", 818).attr("y", 32).attr("fill", "#0000ff")
  .style("font-size", "26px").text("d:day");

// axis titles
svg.append("text")
  .attr("transform", "translate(31,667) rotate(-90)")
  .attr("text-anchor", "middle")
  .attr("fill", axisColor)
  .style("font-size", "26px")
  .text("Amplitudes in the Y Components [mm]");

svg.append("text")
  .attr("x", 617).attr("y", 1322)
  .attr("text-anchor", "middle")
  .attr("fill", axisColor)
  .style("font-size", "26px")
  .text("Period");
</script>
</body>
</html>
